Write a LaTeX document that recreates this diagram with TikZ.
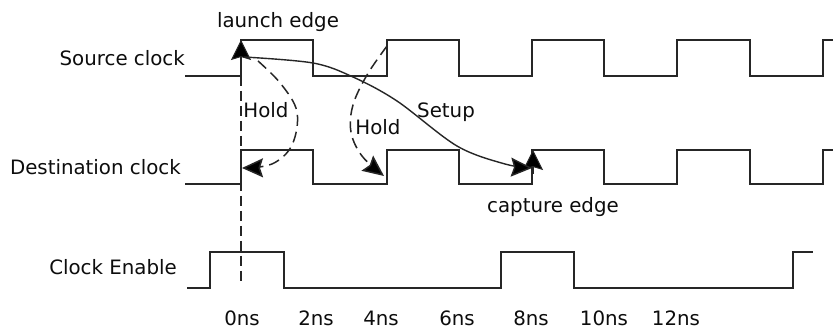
\documentclass[tikz,border=0pt]{standalone}
\usepackage{fontspec}
\setmainfont{DejaVu Sans}
\usetikzlibrary{arrows.meta}
\definecolor{wave}{gray}{0.15}
\definecolor{ink}{gray}{0.05}
\begin{document}
\begin{tikzpicture}[x=1pt,y=-1pt,
  wavef/.style={draw=wave,line width=1.9pt,line join=miter},
  lbl/.style={text=ink,inner sep=0pt,font=\fontsize{19.8pt}{23pt}\selectfont},
  guide/.style={draw=wave,line width=1.4pt,dash pattern=on 10pt off 5pt},
  holdarrow/.style={draw=wave,line width=1.5pt,dash pattern=on 11pt off 6pt,-{Stealth[length=21pt,width=19pt,inset=3pt,fill=black]}},
  solidarrow/.style={draw=wave,line width=1.4pt,-{Stealth[length=21pt,width=19pt,inset=3pt,fill=black]}},
  tip/.style={draw=wave,line width=1pt,-{Stealth[length=20pt,width=20pt,inset=3pt,fill=black]}}]
\useasboundingbox (0,0) rectangle (833,331);
\fill[white] (0,0) rectangle (833,331);

% labels
\node[lbl,anchor=base east] (src) at (185,66) {Source clock};
\node[lbl,anchor=base east] (dst) at (181,175) {Destination clock};
\node[lbl,anchor=base east] (ce) at (177,275) {Clock Enable};
\node[lbl,anchor=base] (launch) at (278,28) {launch edge};
\node[lbl,anchor=base] (capture) at (553,213) {capture edge};
\node[lbl,anchor=base] (setup) at (446,118) {Setup};
\node[lbl,anchor=base] (hold1) at (266,118) {Hold};
\node[lbl,anchor=base] (hold2) at (378,135) {Hold};
\foreach \x/\t [count=\i] in {242/0ns,316/2ns,381/4ns,457/6ns,531/8ns,604/10ns,676/12ns}
  \node[lbl,anchor=base] (t\i) at (\x,325) {\t};

% waveforms
\draw[wavef] (185,76) -- (241,76) -- (241,40) -- (313,40) -- (313,76) -- (387,76) -- (387,40)
  -- (459,40) -- (459,76) -- (532,76) -- (532,40) -- (604,40) -- (604,76) -- (677,76)
  -- (677,40) -- (750,40) -- (750,76) -- (823,76) -- (823,40) -- (833,40);
\draw[wavef] (185,184) -- (241,184) -- (241,150) -- (313,150) -- (313,184) -- (387,184) -- (387,150)
  -- (459,150) -- (459,184) -- (532,184) -- (532,150) -- (604,150) -- (604,184) -- (677,184)
  -- (677,150) -- (750,150) -- (750,184) -- (823,184) -- (823,150) -- (833,150);
\draw[wavef] (187,288) -- (210,288) -- (210,252) -- (284,252) -- (284,288) -- (501,288)
  -- (501,252) -- (574,252) -- (574,288) -- (793,288) -- (793,252) -- (813,252);

% key points
\coordinate (launchtip) at (241,40);
\coordinate (launchbase) at (241,64);
\coordinate (capturetip) at (533,150);
\coordinate (capturebase) at (533,174);
\coordinate (setupstart) at (244,57);
\coordinate (setupend) at (532,168);
\coordinate (guidetop) at (241,76);
\coordinate (guidebot) at (241,283);
\coordinate (h1start) at (258,61);
\coordinate (h1end) at (242,168);
\coordinate (h2start) at (387,46);
\coordinate (h2end) at (384,176);

% dashed guide at 0ns
\draw[guide] (guidetop) -- (guidebot);

% edge markers
\draw[tip] (launchbase) -- (launchtip);
\draw[tip] (capturebase) -- (capturetip);

% setup arc
\draw[solidarrow] plot[smooth,tension=0.55] coordinates {(setupstart) (313,63) (353,77) (397,101) (457,146) (505,164) (setupend)};

% hold arcs
\draw[holdarrow] plot[smooth,tension=0.6] coordinates {(h1start) (281,84) (297,112) (292,145) (272,164) (h1end)};
\draw[holdarrow] plot[smooth,tension=0.6] coordinates {(h2start) (367,75) (353,105) (351,132) (362,156) (h2end)};
\end{tikzpicture}
\end{document}
